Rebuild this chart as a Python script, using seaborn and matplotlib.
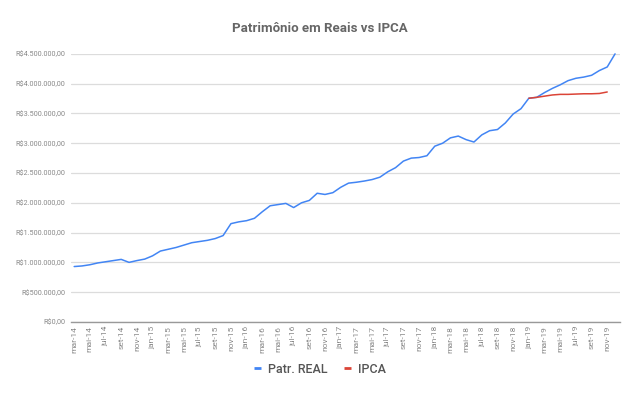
import matplotlib

matplotlib.use("Agg")
import matplotlib.pyplot as plt
import pandas as pd
import seaborn as sns
from matplotlib.lines import Line2D
from matplotlib.ticker import FuncFormatter, MultipleLocator

MONTH_NAMES = ["jan", "fev", "mar", "abr", "mai", "jun", "jul", "ago", "set", "out", "nov", "dez"]
YEARS = ["14", "15", "16", "17", "18", "19"]

# mar-14 .. dez-19, monthly
months = [f"{m}-{y}" for y in YEARS for m in MONTH_NAMES][2:]

patr_real = [
    0.93, 0.94, 0.96, 0.99, 1.01, 1.03, 1.05, 1.00, 1.03, 1.055,
    1.11, 1.19, 1.22, 1.25, 1.29, 1.33, 1.35, 1.37, 1.40, 1.45,
    1.65, 1.68, 1.70, 1.74, 1.85, 1.95, 1.97, 1.99, 1.92, 2.00,
    2.04, 2.16, 2.14, 2.17, 2.26, 2.33, 2.345, 2.365, 2.39, 2.43,
    2.52, 2.59, 2.70, 2.75, 2.76, 2.79, 2.95, 3.00, 3.09, 3.12,
    3.06, 3.02, 3.14, 3.21, 3.23, 3.34, 3.49, 3.58, 3.755, 3.77,
    3.85, 3.92, 3.98, 4.05, 4.09, 4.11, 4.14, 4.22, 4.28, 4.50,
]
patr_real = [v * 1_000_000 for v in patr_real]

ipca_months = ["jan-19", "fev-19", "mar-19", "abr-19", "mai-19", "jun-19",
               "jul-19", "ago-19", "set-19", "out-19", "nov-19"]
ipca = [3.755, 3.77, 3.79, 3.81, 3.82, 3.82, 3.825, 3.83, 3.83, 3.835, 3.86]
ipca = [v * 1_000_000 for v in ipca]

tick_labels = months[::2]
series_names = ["Patr. REAL", "IPCA"]

BLUE = "#4285F4"
RED = "#DB4437"

df_real = pd.DataFrame({"pos": range(len(months)), "valor": patr_real})
df_ipca = pd.DataFrame({"pos": [months.index(m) for m in ipca_months], "valor": ipca})

sns.set_style("white")
plt.rcParams["font.family"] = ["Roboto", "DejaVu Sans"]

fig = plt.figure(figsize=(6.4, 3.96), dpi=100)
ax = fig.add_axes([0.111, 0.187, 0.858, 0.677])

sns.lineplot(data=df_real, x="pos", y="valor", ax=ax, color=BLUE, lw=1.1,
             clip_on=False, zorder=3)
sns.lineplot(data=df_ipca, x="pos", y="valor", ax=ax, color=RED, lw=1.1,
             clip_on=False, zorder=4)

ax.set_xlim(-0.4, 69.65)
ax.set_ylim(0, 4_500_000)
ax.yaxis.set_major_locator(MultipleLocator(500_000))


def brl(v, _):
    s = f"{v:,.2f}"
    return "R$" + s.replace(",", "X").replace(".", ",").replace("X", ".")


ax.yaxis.set_major_formatter(FuncFormatter(brl))
ax.set_xticks(range(0, len(months), 2))
ax.set_xticklabels(tick_labels, rotation=90, fontsize=6, color="#888888")
ax.tick_params(axis="y", labelsize=5.2, labelcolor="#888888", length=0, pad=4)
ax.tick_params(axis="x", length=0, pad=3)
ax.grid(axis="y", color="#dcdcdc", lw=0.9)
ax.set_axisbelow(True)
for side in ["top", "right", "left"]:
    ax.spines[side].set_visible(False)
ax.spines["bottom"].set_color("#999999")
ax.spines["bottom"].set_linewidth(1.0)
ax.set_xlabel("")
ax.set_ylabel("")

fig.text(0.5, 0.929, "Patrimônio em Reais vs IPCA", ha="center", va="center",
         fontsize=9.5, fontweight="bold", color="#666666")

handles = [Line2D([], [], color=c, lw=2.0, solid_capstyle="butt") for c in (BLUE, RED)]
fig.legend(handles, series_names, loc="center", bbox_to_anchor=(0.5, 0.068), ncol=2,
           frameon=False, prop={"size": 9, "weight": "medium"}, handlelength=0.55,
           handletextpad=0.55, columnspacing=1.3, labelcolor="#555555")

fig.savefig("out.png", dpi=100, facecolor="white")
